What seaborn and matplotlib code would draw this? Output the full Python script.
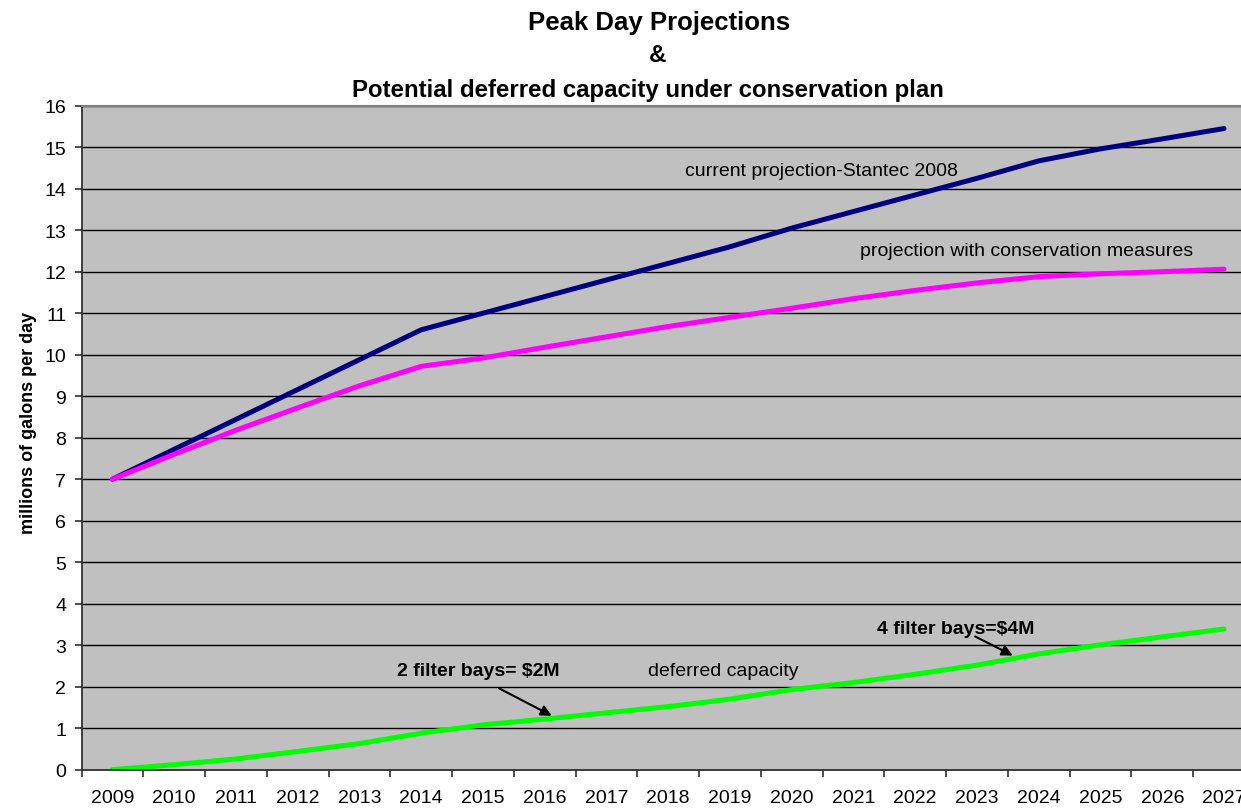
import numpy as np
import pandas as pd
import matplotlib
matplotlib.use("Agg")
import matplotlib.pyplot as plt
import seaborn as sns

# values (millions of gallons per day)
years = [str(y) for y in range(2009, 2028)]
current_projection = [7.0, 7.72, 8.44, 9.16, 9.88, 10.6, 11.0, 11.4, 11.8, 12.2,
                      12.6, 13.05, 13.45, 13.85, 14.25, 14.67, 14.96, 15.2, 15.45]
conservation_projection = [7.0, 7.6, 8.18, 8.72, 9.25, 9.72, 9.92, 10.18, 10.43, 10.68,
                           10.9, 11.12, 11.35, 11.55, 11.73, 11.88, 11.95, 12.0, 12.06]
deferred_capacity = [0.0, 0.12, 0.26, 0.44, 0.63, 0.88, 1.08, 1.22, 1.37, 1.52,
                     1.7, 1.93, 2.1, 2.3, 2.52, 2.79, 3.01, 3.2, 3.39]
y_ticks = list(range(0, 17))

df = pd.DataFrame({
    "idx": np.arange(len(years)),
    "current": current_projection,
    "conservation": conservation_projection,
    "deferred": deferred_capacity,
})

sns.set_style("ticks")
plt.rcParams["font.family"] = ["Liberation Sans", "DejaVu Sans"]
plt.rcParams["text.color"] = "black"
plt.rcParams["axes.labelcolor"] = "black"
plt.rcParams["xtick.color"] = "black"
plt.rcParams["ytick.color"] = "black"

fig = plt.figure(figsize=(12.41, 8.12), dpi=100)
# plot area runs a little past the right edge, like the original
ax = fig.add_axes([0.0657, 0.0509, 0.9455, 0.8177])
ax.set_facecolor("#C0C0C0")

sns.lineplot(data=df, x="idx", y="current", ax=ax, color="#000080", lw=3.6)
sns.lineplot(data=df, x="idx", y="conservation", ax=ax, color="#FF00FF", lw=3.6)
sns.lineplot(data=df, x="idx", y="deferred", ax=ax, color="#00FF00", lw=3.6)
for ln in ax.lines:
    ln.set_solid_capstyle("round")

ax.set_xlim(-0.5, len(years) - 0.5)
ax.set_ylim(0, 16)
ax.set_yticks(y_ticks)
ax.set_yticklabels([str(t) for t in y_ticks], fontsize=14)
ax.yaxis.grid(True, color="black", lw=1)
ax.set_axisbelow(True)

# category axis: tick marks at bin edges, labels in bin centres
ax.set_xticks(np.arange(len(years) + 1) - 0.5)
ax.set_xticklabels([])
ax.set_xticks(np.arange(len(years)), minor=True)
ax.set_xticklabels(years, minor=True, fontsize=14)
ax.tick_params(axis="x", which="major", length=5, width=1.2, color="#303030")
ax.tick_params(axis="x", which="minor", length=0, pad=14)
ax.tick_params(axis="y", length=5, width=1.2, color="#303030", pad=6)

ax.set_xlabel("")
ax.set_ylabel("millions of galons per day", fontsize=13, fontweight="bold")
ax.yaxis.set_label_coords(-0.038, 0.524)

for side in ["top", "right"]:
    ax.spines[side].set_color("#808080")
    ax.spines[side].set_linewidth(1.5)
for side in ["left", "bottom"]:
    ax.spines[side].set_color("#303030")
    ax.spines[side].set_linewidth(1.3)

# titles
fig.text(659 / 1241, 1 - 23 / 812, "Peak Day Projections", ha="center", va="center",
         fontsize=18.5, fontweight="bold")
fig.text(658 / 1241, 1 - 56 / 812, "&", ha="center", va="center",
         fontsize=17.5, fontweight="bold")
fig.text(648 / 1241, 1 - 90 / 812, "Potential deferred capacity under conservation plan",
         ha="center", va="center", fontsize=17.3, fontweight="bold")

# line labels
ax.text(9.27, 14.45, "current projection-Stantec 2008", fontsize=14, va="center")
ax.text(17.5, 12.5, "projection with conservation measures", fontsize=14,
        va="center", ha="right")
ax.text(8.67, 2.38, "deferred capacity", fontsize=14, va="center")

ax.text(5.92, 2.385, "2 filter bays= $2M", fontsize=14, fontweight="bold",
        ha="center", va="center")
ax.text(13.65, 3.41, "4 filter bays=$4M", fontsize=14, fontweight="bold",
        ha="center", va="center")

arrow_style = dict(arrowstyle="-|>", color="black", lw=1.5,
                   mutation_scale=16, shrinkA=0, shrinkB=0)
ax.annotate("", xy=(7.115, 1.30), xytext=(6.261, 1.96), arrowprops=arrow_style)
ax.annotate("", xy=(14.58, 2.75), xytext=(13.97, 3.21), arrowprops=arrow_style)

fig.savefig("out.png", dpi=100)
